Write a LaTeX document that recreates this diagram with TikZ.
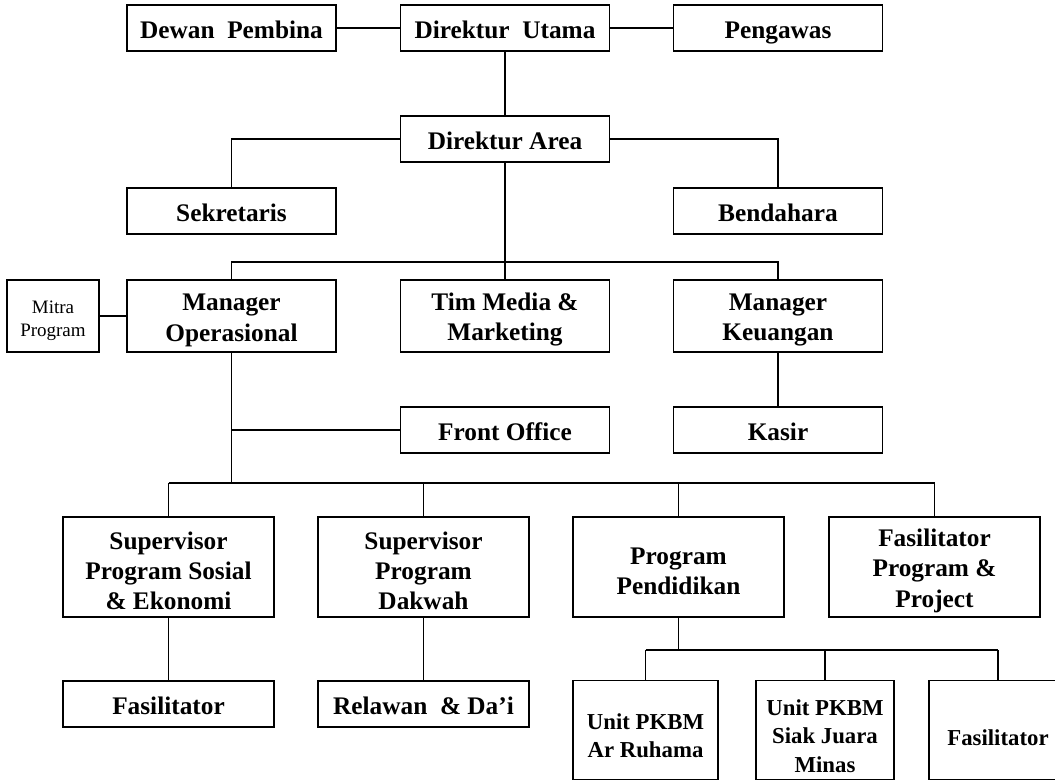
\documentclass[tikz,border=0pt]{standalone}
\usepackage{fontspec}
\setmainfont{Liberation Serif}
\usetikzlibrary{positioning, calc}
\newcommand{\boxpad}[1][18pt]{\rule{0pt}{#1}}

\begin{document}
\begin{tikzpicture}[
  x=0.025cm, y=-0.025cm,
  frame/.style={draw, line width=1.2pt, fill=white, inner sep=2pt, font=\fontsize{18}{21.5}\selectfont\bfseries, minimum width=5.225cm, minimum height=1.15cm},
  onebox/.style={frame, text height=15pt, text depth=0.2pt},
  box/.style={frame, align=center},
  tallbox/.style={box, minimum height=1.8cm},
  spvbox/.style={box, minimum width=5.275cm, minimum height=2.5cm},
  unitbox/.style={box, minimum height=2.475cm, font=\fontsize{16.2}{20}\selectfont\bfseries},
  mitrabox/.style={box, minimum width=2.3cm, minimum height=1.8cm, font=\fontsize{13.5}{16.5}\selectfont},
  link/.style={line width=1.2pt}
]
  \clip (0,0) rectangle (1055,781);
  \fill[white] (0,0) rectangle (1055,781);

  % top levels
  \node[onebox] (dewan) at (231.5,28) {Dewan\ \ Pembina};
  \node[onebox] (dirut) at (505,28) {Direktur\ \ Utama};
  \node[onebox] (pengawas) at (778,28) {Pengawas};
  \node[onebox] (dirarea) at (505,139) {Direktur Area};
  \node[onebox] (sekretaris) at (231.5,211) {Sekretaris};
  \node[onebox] (bendahara) at (778,211) {Bendahara};

  % managers
  \node[mitrabox] (mitra) at (53,316) {\boxpad[16pt]Mitra\\Program};
  \node[tallbox] (manops) at (231.5,316) {\boxpad Manager\\Operasional};
  \node[tallbox] (media) at (505,316) {\boxpad Tim Media \&\\Marketing};
  \node[tallbox] (mankeu) at (778,316) {\boxpad Manager\\Keuangan};
  \node[onebox] (frontoffice) at (505,430) {Front Office};
  \node[onebox] (kasir) at (778,430) {Kasir};

  % programs
  \node[spvbox] (spvsosial) at (168.5,567) {\boxpad Supervisor\\Program Sosial\\\& Ekonomi};
  \node[spvbox] (spvdakwah) at (423.5,567) {\boxpad Supervisor\\Program\\Dakwah};
  \node[spvbox] (pendidikan) at (678.5,567) {\boxpad Program\\Pendidikan};
  \node[spvbox] (fasprog) at (934.5,567) {\boxpad Fasilitator\\Program \&\\Project};
  \node[onebox, minimum width=5.275cm] (fasil) at (168.5,704) {Fasilitator};
  \node[onebox, minimum width=5.275cm] (relawan) at (423.5,704) {Relawan\ \ \& Da'i};
  \node[unitbox, minimum width=3.625cm] (arruhama) at (645.5,730) {\boxpad[20pt]Unit PKBM\\Ar Ruhama};
  \node[unitbox, minimum width=3.45cm] (siak) at (825,730) {\boxpad[20pt]Unit PKBM\\Siak Juara\\Minas};
  \node[unitbox, minimum width=3.45cm] (fasilpkbm) at (998,730) {\boxpad[22pt]Fasilitator};

  \coordinate (bus1) at (505,262);
  \coordinate (bus2) at (231.5,483);
  \coordinate (bus3) at (0,650);

  \draw[link] (dewan) -- (dirut);
  \draw[link] (dirut) -- (pengawas);
  \draw[link] (dirut) -- (dirarea);
  \draw[link] (dirarea.west) -| (sekretaris.north);
  \draw[link] (dirarea.east) -| (bendahara.north);
  \draw[link] (dirarea) -- (media);
  \draw[link] (manops.north) |- (bus1) -| (mankeu.north);
  \draw[link] (mitra) -- (manops);
  \draw[link] (mankeu) -- (kasir);
  \draw[link] (manops.south) |- (frontoffice.west);
  \draw[link] (manops.south) -- (bus2);
  \draw[link] (spvsosial.north |- bus2) -- (fasprog.north |- bus2);
  \foreach \n in {spvsosial, spvdakwah, pendidikan, fasprog}
    \draw[link] (\n.north) -- (\n.north |- bus2);
  \draw[link] (spvsosial) -- (fasil);
  \draw[link] (spvdakwah) -- (relawan);
  \draw[link] (pendidikan.south) -- (pendidikan.south |- bus3);
  \draw[link] (arruhama.north |- bus3) -- (fasilpkbm.north |- bus3);
  \foreach \n in {arruhama, siak, fasilpkbm}
    \draw[link] (\n.north) -- (\n.north |- bus3);
\end{tikzpicture}
\end{document}
